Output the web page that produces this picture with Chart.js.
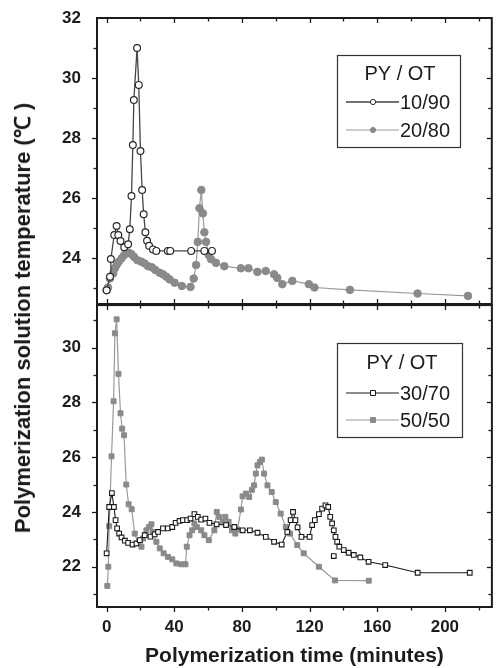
<!DOCTYPE html>
<html>
<head>
<meta charset="utf-8">
<script src="https://cdn.jsdelivr.net/npm/chart.js@4/dist/chart.umd.min.js"></script>
<style>
  html, body { margin: 0; padding: 0; background: #fff; }
  #wrap { position: relative; width: 497px; height: 668px; overflow: hidden; background: #fff; }
  #topCv { position: absolute; left: 0; top: 0; }
  #botCv { position: absolute; left: 0; top: 300px; }
  #ytitle {
    position: absolute; left: 21px; top: 318px;
    transform: translate(-50%, -50%) rotate(-90deg);
    font: bold 22px "Liberation Sans", Arial, sans-serif;
    white-space: nowrap; color: #1a1a1a;
  }
</style>
</head>
<body>
<div id="wrap">
  <canvas id="topCv" width="497" height="310"></canvas>
  <canvas id="botCv" width="497" height="368"></canvas>
  <div id="ytitle">Polymerization solution temperature (℃ )</div>
</div>
<script>
// ---- axis ticks ----
const timeTicks = [0, 40, 80, 120, 160, 200];
const timeMinor = [20, 60, 100, 140, 180, 220];
const topTempTicks = [24, 26, 28, 30, 32];
const topTempMinor = [23, 25, 27, 29, 31];
const botTempTicks = [22, 24, 26, 28, 30];
const botTempMinor = [21, 23, 25, 27, 29, 31];

const legendTitle = 'PY / OT';
const xTitle = 'Polymerization time (minutes)';

// ---- PY/OT 10/90 ----
const time1090 = [0, 2.0, 2.5, 4.5, 5.9, 6.9, 8.2, 10.4, 12.7, 13.7, 14.7, 15.5, 16.1, 18.0, 19.0, 20.0, 21.0, 21.9, 22.9, 23.9, 25.1, 27.4, 29.4, 36.2, 37.6, 50.0, 57.8, 62.3];
const temp1090 = [22.93, 23.38, 23.97, 24.77, 25.07, 24.77, 24.57, 24.36, 24.46, 24.96, 26.07, 27.77, 29.27, 31.0, 29.77, 27.57, 26.27, 25.46, 24.86, 24.58, 24.41, 24.29, 24.24, 24.24, 24.24, 24.24, 24.24, 24.24];

// ---- PY/OT 20/80 ----
const time2080 = [0, 0.8, 1.9, 3.9, 4.9, 5.9, 7.2, 8.8, 10.4, 11.8, 13.1, 14.7, 16.2, 18.2, 20.6, 22.5, 24.5, 26.8, 28.8, 31.4, 33.3, 35.3, 37.2, 40.2, 44.5, 49.6, 51.5, 52.9, 53.9, 54.9, 56.0, 56.9, 57.8, 58.8, 60.4, 61.8, 64.7, 69.6, 79.4, 83.9, 89.2, 94.1, 99.0, 100.9, 103.9, 109.8, 119.6, 122.9, 143.9, 183.9, 213.7];
const temp2080 = [22.93, 23.02, 23.32, 23.49, 23.66, 23.77, 23.88, 23.99, 24.10, 24.18, 24.18, 24.13, 24.04, 23.93, 23.88, 23.82, 23.73, 23.69, 23.60, 23.51, 23.46, 23.38, 23.29, 23.18, 23.07, 23.04, 23.32, 23.77, 24.54, 25.66, 26.27, 25.49, 24.86, 24.54, 24.10, 23.96, 23.84, 23.73, 23.66, 23.66, 23.54, 23.57, 23.46, 23.34, 23.13, 23.24, 23.13, 23.02, 22.94, 22.82, 22.74];

// ---- PY/OT 30/70 ----
const time3070 = [0, 1.5, 3.1, 4.3, 5.3, 6.2, 7.4, 8.8, 10.8, 12.7, 15.3, 17.6, 19.6, 22.5, 25.9, 28.4, 30.4, 33.3, 36.2, 38.8, 40.8, 43.1, 45.1, 47.6, 49.6, 51.9, 53.9, 55.9, 58.4, 60.8, 65.0, 70.6, 75.5, 80.4, 84.7, 89.2, 94.1, 99.0, 103.5, 106.8, 108.8, 110.2, 111.6, 112.9, 115.2, 120.0, 121.5, 123.1, 125.5, 127.4, 129.4, 131.0, 132.2, 133.3, 134.3, 135.3, 136.3, 137.6, 140.2, 143.1, 146.1, 150.0, 154.9, 164.7, 183.9, 214.7];
const temp3070 = [22.49, 24.18, 24.69, 24.18, 23.70, 23.40, 23.21, 23.07, 22.95, 22.87, 22.81, 22.85, 22.97, 23.15, 23.10, 23.18, 23.27, 23.40, 23.40, 23.45, 23.60, 23.67, 23.70, 23.70, 23.76, 23.92, 23.82, 23.72, 23.76, 23.60, 23.55, 23.52, 23.45, 23.33, 23.33, 23.24, 23.09, 22.91, 22.81, 23.27, 23.70, 24.00, 23.70, 23.44, 23.09, 23.09, 23.52, 23.70, 23.92, 24.12, 24.24, 24.18, 23.82, 23.58, 23.33, 23.09, 22.91, 22.73, 22.61, 22.51, 22.43, 22.34, 22.18, 22.06, 21.78, 21.78];
// single reading that sits apart from the trace
const time3070Stray = [134.3];
const temp3070Stray = [22.39];

// ---- PY/OT 50/50 ----
const time5050 = [0.4, 1.0, 1.5, 2.9, 4.1, 4.9, 5.9, 7.0, 8.2, 9.2, 10.3, 11.6, 13.0, 14.8, 16.6, 18.6, 20.6, 21.5, 23.5, 25.1, 26.5, 27.4, 29.4, 31.4, 33.7, 36.2, 38.8, 41.2, 44.1, 46.6, 47.4, 49.0, 50.6, 51.9, 53.3, 55.9, 57.8, 60.4, 63.7, 65.1, 66.6, 68.6, 70.2, 72.1, 74.1, 76.1, 77.4, 79.4, 80.4, 82.4, 84.3, 85.9, 87.2, 88.2, 89.2, 90.6, 91.8, 93.1, 95.1, 97.6, 100.0, 102.9, 105.9, 108.4, 112.7, 116.5, 125.5, 135.0, 155.0];
const temp5050 = [21.30, 22.00, 23.48, 26.03, 28.04, 30.52, 31.03, 29.04, 27.60, 27.04, 26.80, 25.00, 24.28, 24.10, 23.21, 22.85, 22.73, 23.03, 23.33, 23.45, 23.55, 23.27, 22.91, 22.67, 22.49, 22.36, 22.27, 22.12, 22.09, 22.09, 22.73, 23.15, 23.33, 23.58, 23.45, 23.33, 23.15, 22.97, 23.33, 24.00, 23.82, 23.64, 23.82, 23.64, 23.33, 23.21, 23.36, 24.09, 24.57, 24.67, 24.55, 24.81, 24.97, 25.40, 25.70, 25.82, 25.91, 25.40, 24.97, 24.73, 24.36, 23.94, 23.45, 23.21, 22.79, 22.49, 22.00, 21.50, 21.49];

const toPoints = (t, v) => t.map((x, i) => ({ x, y: v[i] }));

const FONT = '"Liberation Sans", Arial, Helvetica, sans-serif';
const INK = '#1c1c1c';
const GREY = '#8a8a8a';

// Frame around each panel with outward/inward tick marks drawn from the scales
const panelFrame = {
  id: 'panelFrame',
  afterDraw(chart, args, o) {
    const { ctx, chartArea: a } = chart;
    const xs = chart.scales.x, ys = chart.scales.y;
    ctx.save();
    ctx.strokeStyle = INK;
    ctx.lineWidth = 2;
    ctx.strokeRect(a.left, a.top, a.right - a.left, a.bottom - a.top);
    ctx.lineWidth = 1.3;
    const seg = (x1, y1, x2, y2) => { ctx.beginPath(); ctx.moveTo(x1, y1); ctx.lineTo(x2, y2); ctx.stroke(); };
    const xMarks = [...o.xMajor.map(v => [v, 5]), ...o.xMinor.map(v => [v, 3.5])];
    xMarks.forEach(([v, len]) => {
      const px = Math.round(xs.getPixelForValue(v)) + 0.5;
      if (px < a.left + 2 || px > a.right - 2) return;
      seg(px, a.top, px, a.top + len);
      if (o.bottomOut) seg(px, a.bottom, px, a.bottom + len);
      else seg(px, a.bottom, px, a.bottom - len);
    });
    const yMarks = [...o.yMajor.map(v => [v, 5]), ...o.yMinor.map(v => [v, 3.5])];
    yMarks.forEach(([v, len]) => {
      const py = Math.round(ys.getPixelForValue(v)) + 0.5;
      if (py < a.top + 2 || py > a.bottom - 2) return;
      seg(a.left - len, py, a.left, py);
      seg(a.right, py, a.right - len, py);
    });
    ctx.restore();
  }
};

// Boxed legend with a heading, built from the chart's datasets
const boxLegend = {
  id: 'boxLegend',
  afterDraw(chart, args, o) {
    const { ctx } = chart;
    ctx.save();
    ctx.fillStyle = '#fff';
    ctx.fillRect(o.left, o.top, o.width, o.height);
    ctx.strokeStyle = '#333';
    ctx.lineWidth = 1.2;
    ctx.strokeRect(o.left + 0.5, o.top + 0.5, o.width, o.height);
    ctx.font = '20px ' + FONT;
    ctx.fillStyle = INK;
    ctx.textBaseline = 'middle';
    ctx.textAlign = 'center';
    ctx.fillText(o.title, o.titleX, o.titleY);
    ctx.textAlign = 'left';
    chart.data.datasets.forEach((ds, i) => {
      const y = o.rowY[i];
      ctx.strokeStyle = ds.borderColor;
      ctx.lineWidth = ds.borderWidth;
      ctx.beginPath(); ctx.moveTo(o.lineX0, y); ctx.lineTo(o.lineX1, y); ctx.stroke();
      ctx.fillStyle = ds.pointBackgroundColor;
      ctx.strokeStyle = ds.pointBorderColor;
      ctx.lineWidth = 1;
      ctx.beginPath();
      if (ds.pointStyle === 'rect') ctx.rect(o.markX - 2.5, y - 2.5, 5, 5);
      else ctx.arc(o.markX, y, 2.6, 0, Math.PI * 2);
      ctx.fill(); ctx.stroke();
      ctx.fillStyle = INK;
      ctx.fillText(ds.label, o.textX, y + 1);
    });
    ctx.restore();
  }
};

const tickFont = { family: FONT, weight: 'bold', size: 17 };

function yAxis(min, max, ticks) {
  return {
    type: 'linear', min, max,
    afterFit(s) { s.width = 97; s.paddingTop = 0; s.paddingBottom = 0; },
    afterBuildTicks(s) { s.ticks = ticks.map(v => ({ value: v })); },
    grid: { display: false },
    border: { display: false },
    ticks: { padding: 8, color: INK, font: tickFont }
  };
}

const common = {
  responsive: false,
  animation: false,
  events: [],
  elements: { line: { tension: 0 } }
};

// Upper panel: 10/90 and 20/80
new Chart(document.getElementById('topCv'), {
  type: 'line',
  data: {
    datasets: [
      {
        label: '10/90', data: toPoints(time1090, temp1090),
        borderColor: '#454545', borderWidth: 1.3,
        pointStyle: 'circle', pointRadius: 3.4, pointBorderWidth: 1.2,
        pointBackgroundColor: '#ffffff', pointBorderColor: '#2a2a2a'
      },
      {
        label: '20/80', data: toPoints(time2080, temp2080),
        borderColor: '#9a9a9a', borderWidth: 1.2,
        pointStyle: 'circle', pointRadius: 3.8, pointBorderWidth: 1,
        pointBackgroundColor: GREY, pointBorderColor: GREY
      }
    ]
  },
  options: {
    ...common,
    layout: { padding: { top: 18, right: 3, bottom: 6, left: 0 } },
    plugins: {
      legend: { display: false },
      tooltip: { enabled: false },
      panelFrame: { xMajor: timeTicks, xMinor: timeMinor, yMajor: topTempTicks, yMinor: topTempMinor, bottomOut: false },
      boxLegend: {
        left: 337, top: 55, width: 123, height: 92, title: legendTitle,
        titleX: 400, titleY: 74, rowY: [102, 130],
        lineX0: 346, lineX1: 399, markX: 373, textX: 400
      }
    },
    scales: {
      x: {
        type: 'linear', min: -5.7, max: 227.8, display: false,
        afterFit(s) { s.paddingLeft = 0; s.paddingRight = 0; }
      },
      y: yAxis(22.47, 32, topTempTicks)
    }
  },
  plugins: [panelFrame, boxLegend]
});

// Lower panel: 30/70 and 50/50
const stray = toPoints(time3070Stray, temp3070Stray);
new Chart(document.getElementById('botCv'), {
  type: 'line',
  data: {
    datasets: [
      {
        label: '30/70',
        data: toPoints(time3070, temp3070).concat([{ x: 215, y: null }], stray),
        borderColor: '#1a1a1a', borderWidth: 1.1,
        pointStyle: 'rect', pointRadius: 3.3, pointBorderWidth: 1.1,
        pointBackgroundColor: '#ffffff', pointBorderColor: '#1a1a1a'
      },
      {
        label: '50/50', data: toPoints(time5050, temp5050),
        borderColor: '#9a9a9a', borderWidth: 1.2,
        pointStyle: 'rect', pointRadius: 3.5, pointBorderWidth: 1,
        pointBackgroundColor: GREY, pointBorderColor: GREY
      }
    ]
  },
  options: {
    ...common,
    layout: { padding: { top: 4, right: 3, bottom: 0, left: 0 } },
    plugins: {
      legend: { display: false },
      tooltip: { enabled: false },
      panelFrame: { xMajor: timeTicks, xMinor: timeMinor, yMajor: botTempTicks, yMinor: botTempMinor, bottomOut: true },
      boxLegend: {
        left: 337, top: 43, width: 125, height: 94, title: legendTitle,
        titleX: 402, titleY: 63, rowY: [93, 120],
        lineX0: 346, lineX1: 399, markX: 373, textX: 400
      }
    },
    scales: {
      x: {
        type: 'linear', min: -5.7, max: 227.8,
        afterFit(s) { s.height = 61; s.paddingLeft = 0; s.paddingRight = 0; },
        afterBuildTicks(s) { s.ticks = timeTicks.map(v => ({ value: v })); },
        grid: { display: false },
        border: { display: false },
        ticks: { padding: 2, color: INK, font: tickFont, maxRotation: 0 },
        title: {
          display: true, text: xTitle, color: INK,
          font: { family: FONT, weight: 'bold', size: 21, lineHeight: 1.1 },
          padding: { top: 0, bottom: 0 }
        }
      },
      y: yAxis(20.53, 31.55, botTempTicks)
    }
  },
  plugins: [panelFrame, boxLegend]
});
</script>
</body>
</html>
